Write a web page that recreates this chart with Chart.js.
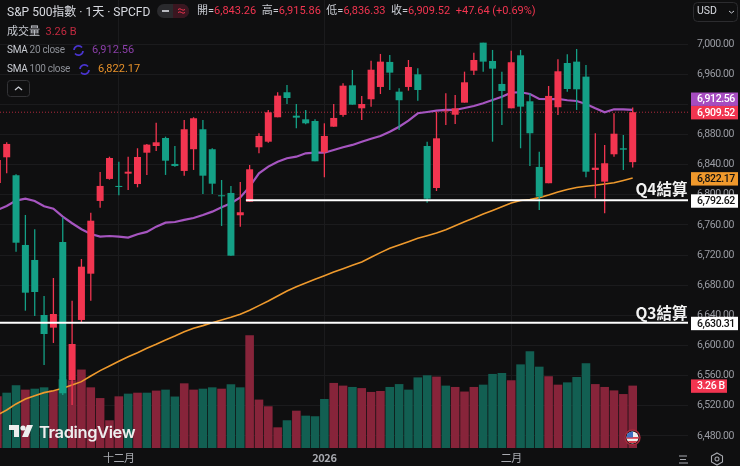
<!DOCTYPE html>
<html>
<head>
<meta charset="utf-8">
<script src="https://cdn.jsdelivr.net/npm/chart.js@4/dist/chart.umd.js"></script>
<style>
html,body{margin:0;padding:0;background:#0f0f10;width:740px;height:466px;overflow:hidden}
#wrap{position:relative;width:740px;height:466px;font-family:Roboto,"Noto Sans CJK TC",sans-serif;color:#c9ccd3}
canvas{position:absolute;left:0;top:0}
.t{position:absolute;white-space:nowrap;font-size:11.5px;line-height:14px}
.s{font-size:10px;letter-spacing:-.3px}
.r{color:#f23550}
svg{position:absolute}
</style>
</head>
<body>
<div id="wrap">
<canvas id="grafico" width="740" height="466"></canvas>

<div class="t" style="left:7px;top:4px;font-size:12px;line-height:16px;color:#d8dae0">S&amp;P 500指數 · 1天 · SPCFD</div>
<svg style="left:157px;top:4px" width="32" height="14"><rect x="0" y="0" width="32" height="14" rx="7" fill="#2a2a2d"/><path d="M16 0h9a7 7 0 0 1 0 14h-9z" fill="#3a1620"/><rect x="5" y="6" width="7" height="2" fill="#b8bac0"/><path d="M21 5.5q2-1.5 3.5 0t3.5 0M21 8.5q2-1.5 3.5 0t3.5 0" stroke="#f23550" fill="none"/></svg>
<div class="t" style="left:197px;top:4px;font-size:11px">開=<span class="r">6,843.26</span>&nbsp;&nbsp;高=<span class="r">6,915.86</span>&nbsp;&nbsp;低=<span class="r">6,836.33</span>&nbsp;&nbsp;收=<span class="r">6,909.52</span>&nbsp;&nbsp;<span class="r">+47.64 (+0.69%)</span></div>
<div class="t" style="left:7px;top:25px;font-size:11px">成交量&nbsp;&nbsp;<span style="color:#c22a40">3.26 B</span></div>
<div class="t s" style="left:7px;top:43px">SMA <span style="color:#8d9097">20 close</span></div>
<svg style="left:72px;top:44px" width="13" height="13"><path d="M2 6a4.5 4.5 0 0 1 8-2.5M11 7a4.5 4.5 0 0 1-8 2.5" stroke="#4a35d0" stroke-width="1.7" fill="none"/></svg>
<div class="t" style="left:92px;top:43px;font-size:11px;color:#8b3fa8">6,912.56</div>
<div class="t s" style="left:7px;top:62px">SMA <span style="color:#8d9097">100 close</span></div>
<svg style="left:78px;top:63px" width="13" height="13"><path d="M2 6a4.5 4.5 0 0 1 8-2.5M11 7a4.5 4.5 0 0 1-8 2.5" stroke="#4a35d0" stroke-width="1.7" fill="none"/></svg>
<div class="t" style="left:98px;top:62px;font-size:11px;color:#e8922a">6,822.17</div>
<svg style="left:7px;top:80px" width="24" height="18"><rect x=".5" y=".5" width="22" height="16" rx="3" fill="none" stroke="#333336"/><path d="M8 10l3.5-3 3.5 3" stroke="#c9ccd3" stroke-width="1.3" fill="none"/></svg>

<svg style="left:693px;top:2px" width="46" height="20"><rect x=".5" y=".5" width="44" height="19" rx="4" fill="#0f0f10" stroke="#2c2c2f"/><path d="M36 9l2.5 2 2.5-2" stroke="#c9ccd3" fill="none"/></svg>
<div class="t" style="left:697px;top:4px;font-size:10.5px;color:#d8dae0">USD</div>

<svg style="left:9px;top:425px" width="26" height="14"><path d="M0 0h10v12h-5V5H0z" fill="#eee"/><circle cx="14" cy="3" r="2.6" fill="#eee"/><path d="M18 0h6l-5 12h-6z" fill="#eee"/></svg>
<div class="t" style="left:39px;top:423px;font-size:16.5px;line-height:18px;font-weight:600;color:#eee;font-family:Inter,Roboto,sans-serif;letter-spacing:-.4px">TradingView</div>

<svg style="left:624px;top:429px" width="17" height="17"><defs><clipPath id="c"><circle cx="8.5" cy="8.5" r="6"/></clipPath></defs><circle cx="8.5" cy="8.5" r="7.5" fill="#1a1012" stroke="#a82a3c" stroke-width="1.4"/><g clip-path="url(#c)"><rect width="17" height="17" fill="#eee"/><rect x="2" y="8" width="13" height="1.8" fill="#d8404f"/><rect x="2" y="12" width="13" height="2" fill="#d8404f"/><rect x="2" y="2" width="7" height="6.5" fill="#3f6fc0"/></g></svg>
<svg style="left:678px;top:453px" width="12" height="12"><path d="M1 3h8M2 6.5h6M1 10h9" stroke="#a8aab0" stroke-width="1.1"/></svg>
<svg style="left:710px;top:452px" width="14" height="14"><path d="M7 1l5.5 3v6L7 13 1.5 10V4z M7 5a2 2 0 1 0 .01 0" stroke="#a8aab0" stroke-width="1.1" fill="none"/></svg>
</div>

<script>
// precios, una vela por indice
const opens = [
6815.6,6849.7,6825.9,6733.4,6713.5,6640.5,6623.7,6737.4,6554.3,6633.9,
6695.3,6791.8,6821.0,6811.7,6828.0,6814.3,6855.8,6864.7,6875.3,6840.9,
6831.6,6860.4,6886.9,6860.4,6799.3,6802.4,6772.8,6790.8,6863.0,6870.4,
6902.8,6936.0,6904.9,6900.1,6897.9,6856.4,6890.3,6905.9,6945.2,6914.7,
6926.7,6943.0,6976.2,6936.8,6943.0,6959.8,6864.7,6809.0,6910.6,6906.2,
6922.2,6964.6,7001.8,6977.5,6947.0,6914.7,6985.0,6924.0,6836.9,6815.3,
6916.1,6974.8,6976.6,6956.7,6832.9,6817.4,6853.7,6861.7,6843.26];
const closes = [
6846.1,6867.4,6736.4,6670.1,6671.0,6615.3,6641.8,6536.6,6602.0,6704.6,
6765.6,6811.7,6848.8,6810.3,6830.6,6850.1,6866.5,6869.6,6845.2,6838.2,
6886.9,6901.5,6825.3,6814.7,6798.0,6719.2,6776.8,6833.8,6878.0,6909.4,
6931.5,6928.4,6902.3,6894.8,6844.4,6878.0,6901.9,6944.7,6919.5,6920.4,
6965.9,6976.6,6962.0,6925.4,6969.5,6939.0,6794.8,6874.9,6911.5,6914.7,
6949.2,6978.8,6976.6,6967.3,6937.7,6975.8,6916.9,6881.6,6797.5,6931.1,
6963.8,6940.3,6939.9,6830.6,6835.9,6841.8,6881.0,6859.8,6909.52];
const highs = [
6848.0,6869.6,6827.2,6773.2,6754.2,6665.7,6689.6,6770.1,6659.5,6714.8,
6776.2,6830.2,6850.5,6843.9,6850.5,6861.7,6867.5,6895.6,6877.1,6864.7,
6899.2,6902.8,6899.2,6861.7,6819.6,6811.7,6817.0,6839.5,6881.6,6912.5,
6936.0,6945.6,6920.4,6912.5,6900.1,6894.8,6920.4,6947.9,6965.5,6931.1,
6977.9,6986.8,6985.4,6941.3,6978.8,6967.8,6870.4,6910.2,6934.6,6932.4,
6963.3,6988.5,7001.8,6992.1,6963.3,6991.1,6992.1,6934.6,6857.2,6944.3,
6979.7,6986.4,6993.4,6972.2,6881.6,6866.1,6908.1,6879.3,6915.86];
const lows = [
6812.0,6828.5,6724.5,6646.2,6639.2,6574.2,6603.4,6534.4,6521.2,6630.3,
6659.5,6782.9,6820.0,6799.3,6806.4,6809.9,6826.3,6858.1,6826.3,6837.3,
6825.3,6832.9,6801.0,6801.0,6758.6,6719.2,6757.7,6790.8,6855.0,6869.1,
6902.8,6920.4,6888.2,6893.5,6844.4,6823.2,6890.3,6903.6,6919.5,6899.2,
6916.9,6933.7,6939.0,6886.0,6938.1,6924.8,6789.5,6805.0,6892.6,6893.9,
6922.2,6958.9,6963.3,6870.4,6892.6,6914.7,6861.7,6838.2,6779.8,6815.3,
6905.9,6936.8,6912.5,6823.2,6795.4,6775.5,6850.5,6832.9,6836.33];
// volumen en miles de millones y su color: 1 sube, -1 baja
const volumes = [
2.70,2.89,3.28,3.05,3.10,3.17,3.01,3.59,3.54,4.10,
3.17,2.61,1.45,2.70,2.84,2.89,2.89,3.00,3.05,2.69,
3.38,3.05,3.10,3.17,3.10,3.33,3.17,5.89,2.53,2.18,
1.08,1.45,1.95,1.69,1.66,2.56,3.40,3.26,3.19,3.13,
2.93,2.98,3.19,3.34,3.05,3.69,3.80,3.73,3.26,3.19,
2.95,3.19,3.31,3.87,3.92,3.54,4.37,5.05,4.25,3.75,
3.31,3.43,3.71,4.43,3.34,3.19,3.01,2.82,3.26];
const volumeDirs = [
1,-1,-1,1,-1,-1,1,-1,1,1,
1,1,1,1,-1,1,-1,1,-1,-1,
1,1,-1,-1,1,-1,-1,1,1,1,
1,-1,1,-1,-1,-1,1,1,-1,1,
1,1,-1,-1,-1,-1,-1,1,-1,1,
1,1,-1,-1,-1,1,-1,-1,-1,1,
1,-1,-1,-1,1,1,1,1,1];
const sma20 = [
6779.8,6785.1,6792.2,6794.8,6791.8,6784.7,6781.6,6770.9,6762.2,6754.2,
6748.0,6744.4,6745.3,6744.4,6743.1,6747.6,6750.7,6757.7,6763.0,6763.9,
6766.6,6769.2,6773.2,6777.6,6783.4,6788.7,6796.4,6810.7,6828.5,6837.3,
6843.9,6848.4,6850.5,6855.0,6855.8,6855.8,6859.4,6863.0,6866.1,6870.4,
6874.4,6878.0,6883.7,6890.3,6898.3,6908.1,6909.8,6911.6,6912.5,6912.5,
6915.1,6917.8,6921.4,6925.7,6930.1,6935.4,6936.0,6933.7,6927.1,6926.7,
6927.1,6925.4,6924.4,6920.4,6914.7,6909.4,6913.4,6913.4,6912.56];
const sma100 = [
6507.9,6514.5,6522.5,6529.1,6533.5,6537.5,6540.1,6543.3,6547.7,6552.1,
6559.6,6566.7,6572.9,6579.1,6585.2,6590.5,6596.4,6601.7,6607.4,6612.7,
6618.4,6622.9,6626.4,6630.3,6633.9,6637.5,6641.5,6646.8,6652.9,6659.1,
6665.8,6672.4,6678.1,6683.0,6687.9,6692.7,6697.6,6702.0,6706.5,6710.9,
6717.1,6723.2,6729.0,6733.4,6737.8,6742.3,6745.7,6749.3,6753.7,6759.0,
6764.3,6769.2,6774.5,6779.2,6784.2,6789.1,6792.4,6793.8,6796.2,6799.7,
6803.7,6807.0,6809.7,6811.3,6812.6,6814.3,6816.0,6819.0,6822.17];

const priceTicks = [7000,6960,6920,6880,6840,6800,6760,6720,6680,6640,6600,6560,6520,6480];
const monthTicks = [13,35,55];
const monthLabels = ['十二月','2026','二月'];
const q4Level = 6792.62, q3Level = 6630.31, lastClose = 6909.52;
const q4Start = 26.6;

const X_MIN = 0.283, X_MAX = 73.92;
const RED = '#f23550', GREEN = '#14a086';
const VOL_RED = '#87243a', VOL_GREEN = '#125f52';

const xs = opens.map((_, i) => i);
const dirColor = xs.map(i => closes[i] >= opens[i] ? RED : GREEN);

const fmt = v => Number(v).toLocaleString('en-US', {minimumFractionDigits:2, maximumFractionDigits:2});

// etiquetas de precio a la derecha y textos Q3/Q4
const overlay = {
  id: 'overlay',
  beforeDraw(chart) {
    chart.ctx.letterSpacing = '-0.4px';
  },
  afterDraw(chart) {
    const c = chart.ctx, y = chart.scales.y, v = chart.scales.v, a = chart.chartArea;
    const tag = (txt, yc, bg, fg, w) => {
      c.fillStyle = bg;
      c.fillRect(691, yc - 6.7, w || 47, 13.4);
      c.fillStyle = fg;
      c.font = '500 10.5px Roboto';
      c.textAlign = 'left';
      c.textBaseline = 'middle';
      c.fillText(txt, 697, yc + 0.5);
    };
    c.save();
    tag(fmt(sma20[sma20.length-1]), y.getPixelForValue(sma20[sma20.length-1]) - 10.7, '#a64cc0', '#fff');
    tag(fmt(lastClose), y.getPixelForValue(lastClose) + 0.5, RED, '#fff');
    tag(fmt(sma100[sma100.length-1]), y.getPixelForValue(sma100[sma100.length-1]) + 0.8, '#f0992c', '#111');
    tag(fmt(q4Level), y.getPixelForValue(q4Level) + 0.7, '#fff', '#111');
    tag(fmt(q3Level), y.getPixelForValue(q3Level) + 0.8, '#fff', '#111');
    tag(volumes[volumes.length-1].toFixed(2) + ' B', v.getPixelForValue(volumes[volumes.length-1]) + 0.5, RED, '#fff', 36);
    c.letterSpacing = '0px';
    c.fillStyle = '#f2f2f2';
    c.font = 'bold 15.5px "Noto Sans CJK TC"';
    c.textAlign = 'right';
    c.textBaseline = 'middle';
    c.fillText('Q4結算', a.right - 0.5, y.getPixelForValue(q4Level) - 11);
    c.fillText('Q3結算', a.right - 0.5, y.getPixelForValue(q3Level) - 10);
    c.restore();
  }
};

new Chart(document.getElementById('grafico'), {
  type: 'bar',
  plugins: [overlay],
  data: {
    datasets: [
      { label:'volumen', yAxisID:'v', order:6, grouped:false, barThickness:8.6, inflateAmount:0,
        data: xs.map(i => ({x:i, y:volumes[i]})),
        backgroundColor: volumeDirs.map(d => d > 0 ? VOL_RED : VOL_GREEN) },
      { type:'line', label:'cierre', order:5, borderColor:'rgba(242,53,80,.7)', borderWidth:1, borderDash:[1,2],
        pointRadius:0, data:[{x:X_MIN,y:lastClose},{x:X_MAX,y:lastClose}] },
      { type:'line', label:'SMA 100', order:4, borderColor:'#ef9a2d', borderWidth:1.6, pointRadius:0, tension:0,
        data: xs.map(i => ({x:i, y:sma100[i]})) },
      { type:'line', label:'SMA 20', order:3, borderColor:'#a655c0', borderWidth:2.2, pointRadius:0, tension:0,
        data: xs.map(i => ({x:i, y:sma20[i]})) },
      { label:'mechas', order:2, grouped:false, barThickness:1.3, inflateAmount:0,
        data: xs.map(i => ({x:i, y:[lows[i], highs[i]]})),
        backgroundColor: dirColor },
      { label:'cuerpos', order:1, grouped:false, barThickness:7, inflateAmount:0,
        data: xs.map(i => ({x:i, y:[opens[i], closes[i]]})),
        backgroundColor: dirColor },
      { type:'line', label:'Q4', order:0, borderColor:'#fff', borderWidth:2, pointRadius:0,
        data:[{x:q4Start,y:q4Level},{x:X_MAX,y:q4Level}] },
      { type:'line', label:'Q3', order:0, borderColor:'#fff', borderWidth:2, pointRadius:0,
        data:[{x:X_MIN,y:q3Level},{x:X_MAX,y:q3Level}] }
    ]
  },
  options: {
    responsive: false,
    animation: false,
    layout: { padding: 0, autoPadding: false },
    plugins: { legend:{display:false}, tooltip:{enabled:false} },
    scales: {
      x: {
        type:'linear', min:X_MIN, max:X_MAX, offset:false,
        grid:{ color:'#1b1b1d', offset:false, drawTicks:false, drawOnChartArea:true },
        border:{ display:false },
        afterBuildTicks: s => { s.ticks = monthTicks.map(v => ({value:v})); },
        afterFit: s => { s.height = 18; s.paddingLeft = 0; s.paddingRight = 0; s.paddingTop = 0; s.paddingBottom = 0; },
        ticks:{
          autoSkip:false, maxRotation:0, padding:3, color:'#a8aab0',
          font: c => ({ family:'"Noto Sans CJK TC",Roboto', size:11, weight: c.tick && c.tick.value === 35 ? 'bold' : 'normal' }),
          callback: v => monthLabels[monthTicks.indexOf(v)]
        }
      },
      y: {
        position:'right', min:6464.06, max:7058.37,
        grid:{ color:'#1b1b1d', drawTicks:false },
        border:{ display:false },
        afterBuildTicks: s => { s.ticks = priceTicks.map(v => ({value:v})); },
        afterFit: s => { s.width = 52; s.paddingLeft = 0; s.paddingRight = 0; s.paddingTop = 0; s.paddingBottom = 0; },
        ticks:{ autoSkip:false, padding:9, color:'#9a9ca3', font:{family:'Roboto', size:10.5}, callback: v => fmt(v) }
      },
      v: { display:false, position:'right', min:0, max:23.41, grid:{display:false} }
    }
  }
});
</script>
</body>
</html>
